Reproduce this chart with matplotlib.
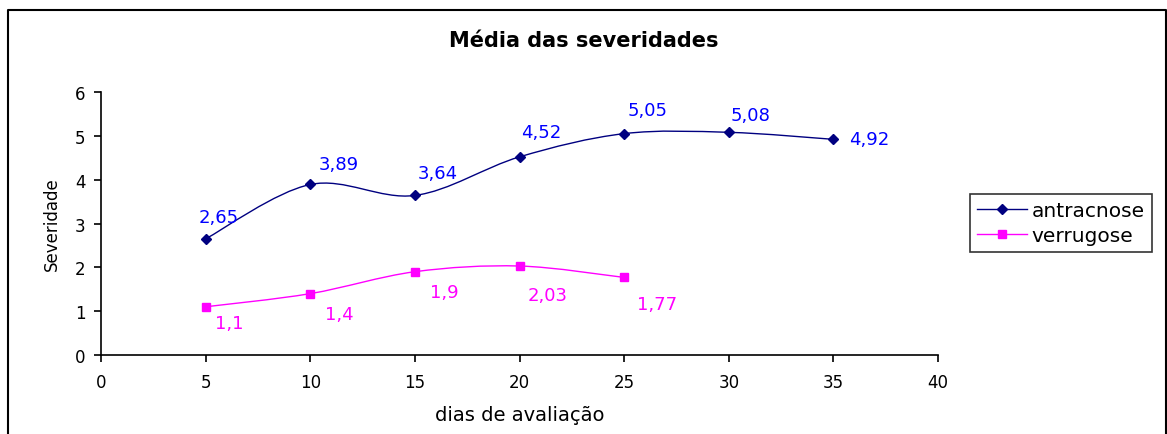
import matplotlib
matplotlib.use("Agg")
import matplotlib.pyplot as plt
from matplotlib.path import Path
from matplotlib.patches import PathPatch
from matplotlib.lines import Line2D

plt.rcParams['font.family'] = ['DejaVu Sans']

# --- données ---
dias_antr = [5, 10, 15, 20, 25, 30, 35]
sev_antr = [2.65, 3.89, 3.64, 4.52, 5.05, 5.08, 4.92]
dias_verr = [5, 10, 15, 20, 25]
sev_verr = [1.1, 1.4, 1.9, 2.03, 1.77]
rot_antr = ["2,65", "3,89", "3,64", "4,52", "5,05", "5,08", "4,92"]
rot_verr = ["1,1", "1,4", "1,9", "2,03", "1,77"]

# décalages des étiquettes (pixels)
off_antr = [(13, 22), (28, 20), (23, 22), (22, 25), (23, 24), (22, 17), (36, 0)]
off_verr = [(24, -16), (29, -20), (29, -20), (28, -29), (33, -27)]

cor_antr = "#000080"
cor_verr = "#FF00FF"


def curva_suave(x, y):
    # courbe lissée façon Excel (Bézier / Catmull-Rom)
    pts = list(zip(x, y))
    verts = [pts[0]]
    codes = [Path.MOVETO]
    n = len(pts)
    for i in range(n - 1):
        p0 = pts[i - 1] if i > 0 else pts[i]
        p1 = pts[i]
        p2 = pts[i + 1]
        p3 = pts[i + 2] if i + 2 < n else pts[i + 1]
        c1 = (p1[0] + (p2[0] - p0[0]) / 6, p1[1] + (p2[1] - p0[1]) / 6)
        c2 = (p2[0] - (p3[0] - p1[0]) / 6, p2[1] - (p3[1] - p1[1]) / 6)
        verts += [c1, c2, p2]
        codes += [Path.CURVE4] * 3
    return Path(verts, codes)


fig = plt.figure(figsize=(11.67, 4.35), dpi=100)
ax = fig.add_axes([101 / 1167, 1 - 356 / 435, (938 - 101) / 1167, (356 - 93) / 435])

ax.add_patch(PathPatch(curva_suave(dias_antr, sev_antr), fill=False, ec=cor_antr, lw=1.0))
ax.add_patch(PathPatch(curva_suave(dias_verr, sev_verr), fill=False, ec=cor_verr, lw=1.0))
ax.plot(dias_antr, sev_antr, ls="none", marker="D", ms=5, color=cor_antr)
ax.plot(dias_verr, sev_verr, ls="none", marker="s", ms=6, color=cor_verr)

for x, y, t, o in zip(dias_antr, sev_antr, rot_antr, off_antr):
    ax.annotate(t, (x, y), xytext=o, textcoords="offset pixels", ha="center", va="center",
                color="#0000FF", fontsize=13)
for x, y, t, o in zip(dias_verr, sev_verr, rot_verr, off_verr):
    ax.annotate(t, (x, y), xytext=o, textcoords="offset pixels", ha="center", va="center",
                color=cor_verr, fontsize=13)

ax.set_xlim(0, 40)
ax.set_ylim(0, 6)
ax.set_xticks(range(0, 41, 5))
ax.set_yticks(range(0, 7))
ax.spines["top"].set_visible(False)
ax.spines["right"].set_visible(False)
ax.spines["left"].set_linewidth(1.2)
ax.spines["bottom"].set_linewidth(1.2)
ax.tick_params(direction="out", length=5, width=1.2, labelsize=12)
ax.tick_params(axis="x", pad=8)
ax.tick_params(axis="y", pad=6)
ax.set_xlabel("dias de avaliação", fontsize=14, labelpad=10)
ax.set_ylabel("Severidade", fontsize=12, labelpad=10)

fig.text(0.5, 1 - 41 / 435, "Média das severidades", ha="center", va="center",
         fontsize=15, fontweight="bold")

h1 = Line2D([], [], color=cor_antr, marker="D", ms=5, lw=1.0)
h2 = Line2D([], [], color=cor_verr, marker="s", ms=6, lw=1.0)
leg = fig.legend([h1, h2], ["antracnose", "verrugose"], loc="center left",
                 bbox_to_anchor=(970 / 1167, 1 - 224 / 435), fontsize=14.5,
                 frameon=True, fancybox=False, edgecolor="black", borderpad=0.35,
                 handlelength=2.5, labelspacing=0.3, handletextpad=0.2, borderaxespad=0)
leg.get_frame().set_linewidth(1.2)

# cadre autour de la figure
x0, x1, y0 = 8 / 1167, 1166 / 1167, 1 - 11 / 435
fig.add_artist(Line2D([x0, x0, x1, x1], [0, y0, y0, 0], transform=fig.transFigure,
                      color="black", lw=1.5))

fig.savefig("out.png", dpi=100)
